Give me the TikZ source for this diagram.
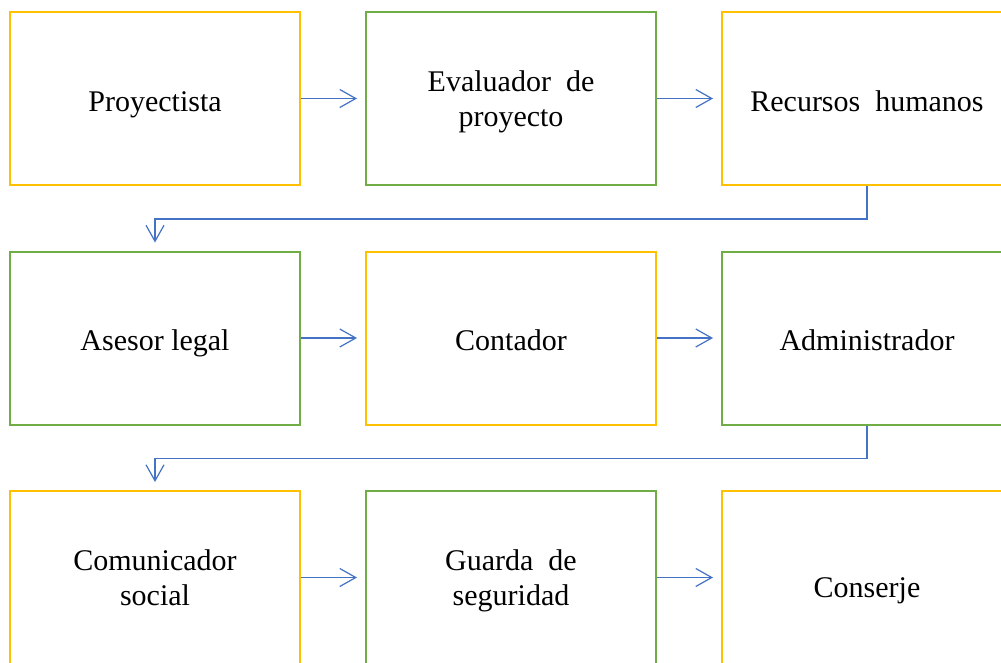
\documentclass[tikz,border=0pt]{standalone}
\usepackage{fontspec}
\setmainfont{Liberation Serif}
\usetikzlibrary{arrows.meta}

\definecolor{boxyellow}{HTML}{FFC000}
\definecolor{boxgreen}{HTML}{70AD47}
\definecolor{flowblue}{HTML}{4472C4}

\begin{document}
\begin{tikzpicture}[x=1pt,y=-1pt,
  box/.style={draw,line width=2pt,fill=white,minimum width=290pt,minimum height=173pt,
    align=center,font=\fontsize{30}{35}\selectfont,text depth=0pt},
  oneline/.style={text height=25pt},
  yellowbox/.style={box,draw=boxyellow},
  greenbox/.style={box,draw=boxgreen},
  flow/.style={draw=flowblue,line width=1.2pt,
    -{Straight Barb[length=16pt,width=18pt,line width=1.2pt]},shorten >=8pt}]
\clip (0,0) rectangle (1001,662);
\fill [white] (0,0) rectangle (1001,662);

  \node [yellowbox,oneline] at (155,98.5) (proy) {Proyectista};
  \node [greenbox] at (511,98.5) (eval) {Evaluador~ de\\proyecto};
  \node [yellowbox,oneline] at (867,98.5) (rrhh) {Recursos~ humanos};

  \node [greenbox,oneline] at (155,338) (legal) {Asesor legal};
  \node [yellowbox,oneline] at (511,338) (cont) {Contador};
  \node [greenbox,oneline] at (867,338) (admin) {Administrador};

  \node [yellowbox] at (155,577.5) (comu) {Comunicador\\social};
  \node [greenbox] at (511,577.5) (guarda) {Guarda~ de\\seguridad};
  \node [yellowbox,text height=40pt] at (867,577.5) (consj) {Conserje};

  \begin{scope}[every path/.style={flow}]
    \path (proy.east) -- (eval.west);
    \path (eval.east) -- (rrhh.west);
    \path (rrhh.south) -- ++(0,33) -| (legal.north);
    \path (legal.east) -- (cont.west);
    \path (cont.east) -- (admin.west);
    \path (admin.south) -- ++(0,33) -| (comu.north);
    \path (comu.east) -- (guarda.west);
    \path (guarda.east) -- (consj.west);
  \end{scope}
\end{tikzpicture}
\end{document}
